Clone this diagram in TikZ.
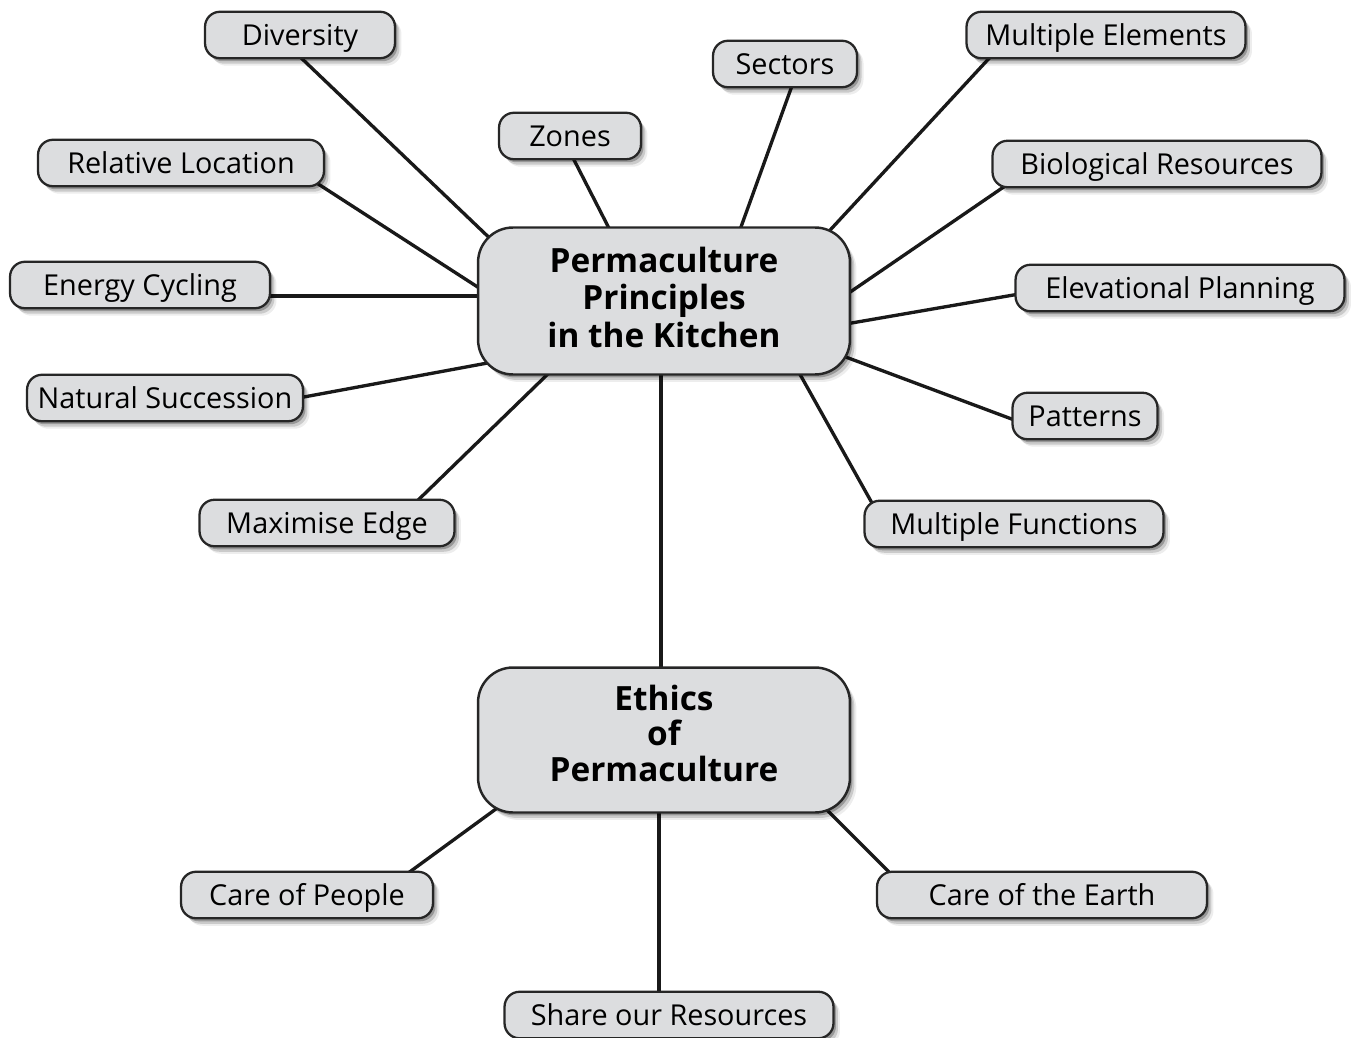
\documentclass[tikz,border=0pt]{standalone}
\usepackage{fontspec}
\setmainfont{Open Sans}
\usetikzlibrary{shadows,backgrounds}

\definecolor{boxgray}{HTML}{DCDDDF}

\tikzset{
  softshadow/.style={
    drop shadow={shadow xshift=0.05cm, shadow yshift=-0.06cm, fill=black, opacity=0.25},
    drop shadow={shadow xshift=0.09cm, shadow yshift=-0.11cm, fill=black, opacity=0.15},
    drop shadow={shadow xshift=0.13cm, shadow yshift=-0.15cm, fill=black, opacity=0.07}},
  leaf/.style={draw=black!85, line width=1.3pt, fill=boxgray, rounded corners=0.3cm,
    softshadow, minimum height=0.93cm, inner sep=0pt, text height=11.7pt, text depth=0pt,
    font=\fontsize{16.4}{19}\selectfont},
  hub/.style={draw=black!85, line width=1.4pt, fill=boxgray, rounded corners=0.7cm,
    softshadow, minimum width=7.44cm, inner sep=0pt, align=center,
    font=\fontsize{19}{21.3}\selectfont\bfseries},
  link/.style={line width=1.9pt, black!90}
}
% connector between two shifted node centres
\newcommand\linkto[4]{\draw[link] ([shift={#2}]#1.center) -- ([shift={#4}]#3.center);}

\begin{document}
\begin{tikzpicture}[x=0.02cm, y=-0.02cm]
  \useasboundingbox (0,0) rectangle (1354,1037);

  % centre boxes
  \node[hub, minimum height=2.94cm, text depth=4.5pt] (main) at (664,301) {Permaculture\\Principles\\in the Kitchen};
  \node[hub, minimum height=2.9cm, text depth=7.9pt, font=\fontsize{19}{20.2}\selectfont\bfseries] (ethics) at (664,740) {Ethics\\of\\Permaculture};

  % principles
  \node[leaf, minimum width=3.8cm] (div) at (300,35) {Diversity};
  \node[leaf, minimum width=2.88cm] (sec) at (785,64) {Sectors};
  \node[leaf, minimum width=5.58cm] (melem) at (1106,35) {Multiple Elements};
  \node[leaf, minimum width=2.84cm] (zon) at (570,136) {Zones};
  \node[leaf, minimum width=5.72cm] (rloc) at (181,163) {Relative Location};
  \node[leaf, minimum width=6.58cm] (bio) at (1157,164) {Biological Resources};
  \node[leaf, minimum width=5.2cm] (ener) at (140,285) {Energy Cycling};
  \node[leaf, minimum width=6.58cm] (elev) at (1180,288) {Elevational Planning};
  \node[leaf, minimum width=5.52cm] (nsucc) at (165,398) {Natural Succession};
  \node[leaf, minimum width=2.9cm] (pat) at (1085,416) {Patterns};
  \node[leaf, minimum width=5.1cm] (medge) at (327,523) {Maximise Edge};
  \node[leaf, minimum width=5.98cm] (mfunc) at (1014,524) {Multiple Functions};

  % ethics
  \node[leaf, minimum width=5.04cm] (cpeop) at (307,895) {Care of People};
  \node[leaf, minimum width=6.6cm] (cearth) at (1042,895) {Care of the Earth};
  \node[leaf, minimum width=6.58cm] (share) at (669,1015) {Share our Resources};

  \begin{scope}[on background layer]
    \linkto{div}{(-4,18)}{main}{(-164,-53)}
    \linkto{zon}{(2,20)}{main}{(-50,-63)}
    \linkto{sec}{(8,19)}{main}{(73,-63)}
    \linkto{melem}{(-112,18)}{main}{(156,-60)}
    \linkto{rloc}{(131,17)}{main}{(-174,-6)}
    \linkto{bio}{(-149,20)}{main}{(176,-2)}
    \linkto{ener}{(120,11)}{main}{(-174,-5)}
    \linkto{elev}{(-155,5)}{main}{(176,24)}
    \linkto{nsucc}{(128,1)}{main}{(-171,61)}
    \linkto{pat}{(-60,8)}{main}{(171,52)}
    \linkto{medge}{(84,-16)}{main}{(-112,69)}
    \linkto{mfunc}{(-137,-12)}{main}{(133,68)}
    \linkto{main}{(-3,0)}{ethics}{(-3,0)}
    \linkto{cpeop}{(93,-16)}{ethics}{(-164,66)}
    \linkto{cearth}{(-145,-15)}{ethics}{(161,68)}
    \linkto{share}{(-10,0)}{ethics}{(-5,0)}
  \end{scope}
\end{tikzpicture}
\end{document}
